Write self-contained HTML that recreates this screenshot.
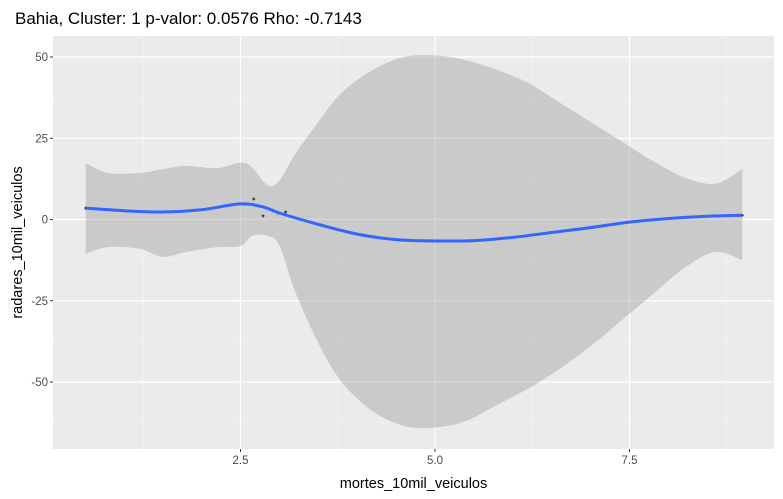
<!DOCTYPE html>
<html><head><meta charset="utf-8"><style>
body{margin:0;background:#fff;}
svg{display:block;font-family:"Liberation Sans",Arial,sans-serif;}
</style></head><body>
<svg id="chart" width="783" height="499"></svg>
<script>
const bandX = [0.51,0.8,1.2,1.5,1.8,2.2,2.5,2.65,2.85,3.0,3.2,3.5,3.8,4.2,4.6,5.0,5.4,5.8,6.2,6.6,7.0,7.4,7.8,8.2,8.6,8.95];
const bandUpper = [17.4,14.3,14.3,15.5,16.5,15.8,17.5,16,10.5,12,20,30,39,46,50,50.5,49,46,42,36,30,24,18,13,11,15.5];
const bandLower = [-10.5,-8.5,-9,-11.5,-10,-8.5,-8.2,-5,-5,-8,-22,-38,-50,-59,-63.5,-64,-62,-57,-52,-46,-39,-31,-23,-15,-10,-12.5];
const fitX = [0.51,1.0,1.5,2.0,2.5,2.8,3.0,3.5,4.0,4.5,5.0,5.5,6.0,6.5,7.0,7.5,8.0,8.5,8.95];
const fitY = [3.5,2.7,2.3,3.0,4.8,3.8,2.0,-1.5,-4.5,-6.2,-6.6,-6.5,-5.5,-4,-2.5,-0.8,0.3,1.0,1.3];
const pointsX = [0.51,2.67,2.79,2.98,3.08,8.95];
const pointsY = [3.5,6.3,1.1,2.0,2.3,1.3];
const xTicks = [2.5,5.0,7.5];
const xTickLabels = ["2.5","5.0","7.5"];
const yTicks = [50,25,0,-25,-50];
const yTickLabels = ["50","25","0","-25","-50"];
const xMinor = [1.25,3.75,6.25,8.75];
const yMinor = [37.5,12.5,-12.5,-37.5,-62.5];

const L=53,R=774,T=36,B=449;
const sx=v=>240.5+(v-2.5)*77.8;
const sy=v=>219.5-3.25*v;
const svg=document.getElementById('chart');
const NS='http://www.w3.org/2000/svg';
function mk(tag,attrs,parent){const e=document.createElementNS(NS,tag);for(const k in attrs)e.setAttribute(k,attrs[k]);(parent||svg).appendChild(e);return e;}
function smooth(pts){let d='M'+pts[0][0]+','+pts[0][1];for(let i=0;i<pts.length-1;i++){const p0=pts[Math.max(0,i-1)],p1=pts[i],p2=pts[i+1],p3=pts[Math.min(pts.length-1,i+2)];const c1=[p1[0]+(p2[0]-p0[0])/6,p1[1]+(p2[1]-p0[1])/6],c2=[p2[0]-(p3[0]-p1[0])/6,p2[1]-(p3[1]-p1[1])/6];d+=' C'+c1+' '+c2+' '+p2;}return d;}

let e=mk('rect',{x:L,y:T,width:R-L,height:B-T,fill:'#ebebeb'});


xMinor.forEach(v=>{const l=mk('line',{x1:sx(v),x2:sx(v),y1:T,y2:B,stroke:'#f5f5f5','stroke-width':0.6});});
yMinor.forEach(v=>{const l=mk('line',{x1:L,x2:R,y1:sy(v),y2:sy(v),stroke:'#f5f5f5','stroke-width':0.6});});
xTicks.forEach((v,i)=>{const l=mk('line',{x1:sx(v),x2:sx(v),y1:T,y2:B,stroke:'#fff','stroke-width':1.2});
 const t=mk('line',{x1:sx(v),x2:sx(v),y1:B,y2:B+3,stroke:'#333'});
 const tx=mk('text',{x:sx(v),y:B+15,'text-anchor':'middle','font-size':11.5,fill:'#4d4d4d'});tx.textContent=xTickLabels[i];});
yTicks.forEach((v,i)=>{const l=mk('line',{x1:L,x2:R,y1:sy(v),y2:sy(v),stroke:'#fff','stroke-width':1.2});
 const t=mk('line',{x1:L-3,x2:L,y1:sy(v),y2:sy(v),stroke:'#333'});
 const tx=mk('text',{x:L-5,y:sy(v)+4,'text-anchor':'end','font-size':11.5,fill:'#4d4d4d'});tx.textContent=yTickLabels[i];});

const up=bandX.map((x,i)=>[sx(x),sy(bandUpper[i])]);
const lo=bandX.map((x,i)=>[sx(x),sy(bandLower[i])]).reverse();
const bd=smooth(up)+' L'+lo[0]+' '+smooth(lo).slice(1)+' Z';
e=mk('path',{d:bd,fill:'#999',opacity:0.4});


pointsX.forEach((x,i)=>{const p=mk('path',{d:`M${sx(x)-1.5},${sy(pointsY[i])}h3M${sx(x)},${sy(pointsY[i])-1.5}v3`,stroke:'#222','stroke-width':1});});
e=mk('path',{d:smooth(fitX.map((x,i)=>[sx(x),sy(fitY[i])])),fill:'none',stroke:'#3366ff','stroke-width':3});



e=mk('text',{x:15,y:24,'font-size':17,fill:'#000'});e.textContent='Bahia, Cluster: 1 p-valor: 0.0576 Rho: -0.7143';


e=mk('text',{x:(L+R)/2,y:488,'text-anchor':'middle','font-size':14.5,fill:'#000'});e.textContent='mortes_10mil_veiculos';


e=mk('text',{x:0,y:0,'text-anchor':'middle','font-size':14.5,fill:'#000',transform:`translate(22,${(T+B)/2}) rotate(-90)`});e.textContent='radares_10mil_veiculos';


</script>
</body></html>
